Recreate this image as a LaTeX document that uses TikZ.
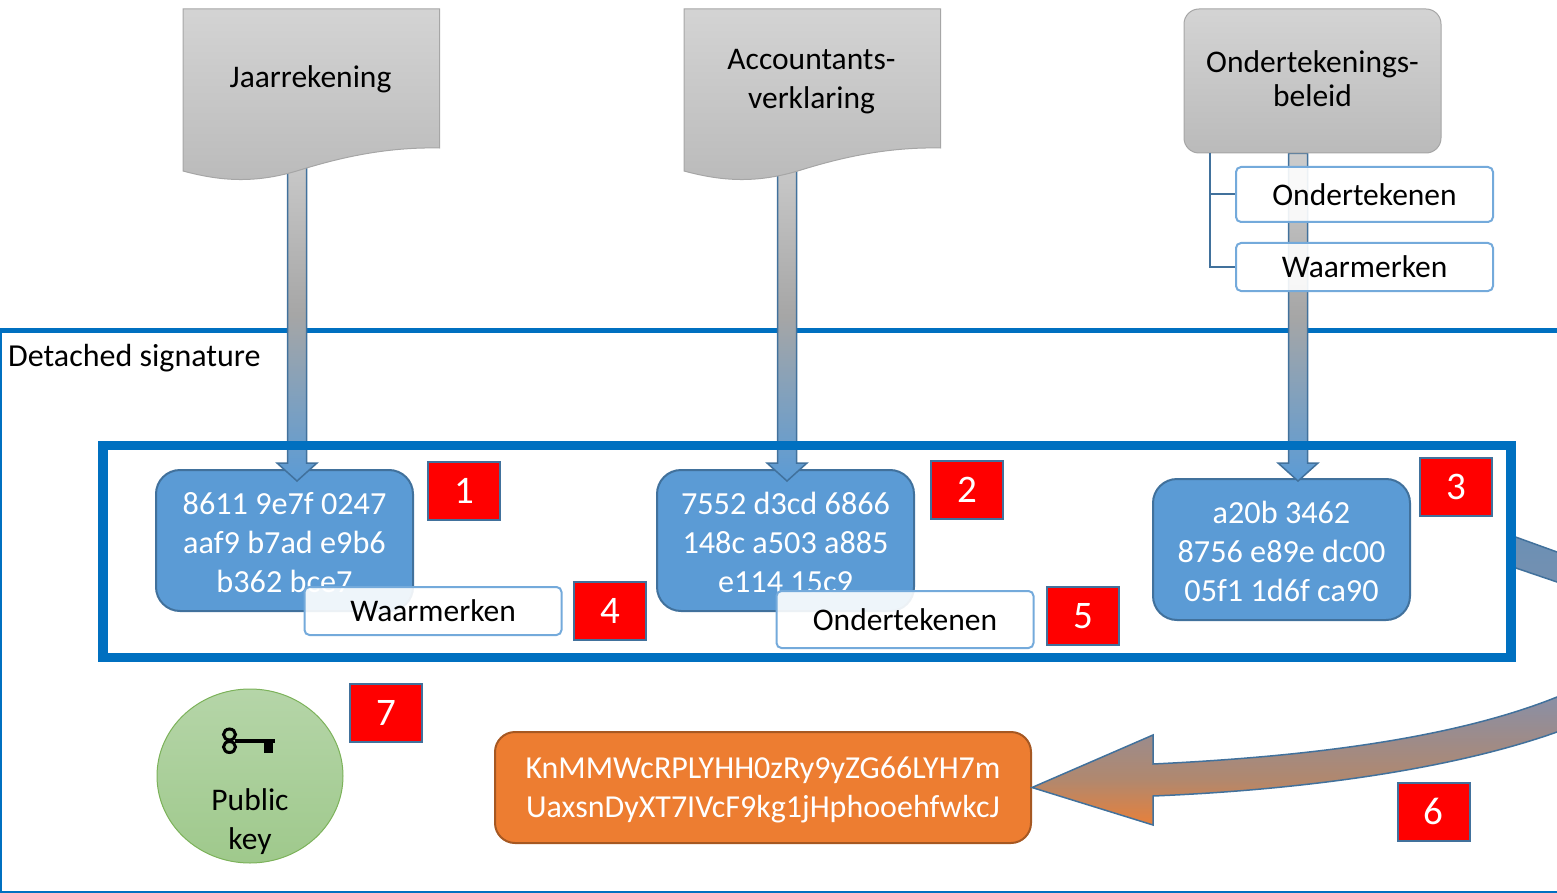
\documentclass[tikz,border=0pt]{standalone}
\usepackage{fontspec}
\setmainfont{Carlito}
\usepackage{tikz}
\usetikzlibrary{calc, shapes.geometric}
\pgfdeclarelayer{achter}
\pgfdeclarelayer{pijlen}
\pgfsetlayers{achter,pijlen,main}
\definecolor{kader}{HTML}{0070C0}
\definecolor{hashblauw}{HTML}{5B9BD5}
\definecolor{rand}{HTML}{41719C}
\definecolor{oranje}{HTML}{ED7D31}
\definecolor{groenrand}{HTML}{7CB25A}
\definecolor{groenboven}{HTML}{B5D5A8}
\definecolor{groenonder}{HTML}{9FC98C}
\definecolor{kroma}{HTML}{E8803A}
\definecolor{kromb}{HTML}{B0886F}
\definecolor{kromc}{HTML}{8A8FA5}
\definecolor{kromd}{HTML}{6B90B5}
\pgfdeclareverticalshading{krom}{100bp}{color(0bp)=(kroma); color(25bp)=(kroma); color(33bp)=(kromb); color(47bp)=(kromc); color(75bp)=(kromd); color(100bp)=(kromd)}
\newcommand*{\zak}{\rule{0pt}{25.5pt}}
\tikzset{
    tekst/.style={font=\fontsize{31.5}{39}\selectfont, align=center, inner sep=0pt},
    hashbox/.style={tekst, font=\fontsize{32.2}{39}\selectfont, draw=rand, line width=2pt, fill=hashblauw, text=white, rounded corners=24pt, minimum width=257pt, minimum height=141pt},
    actie/.style={tekst, draw=hashblauw!85!white, line width=2pt, fill=white, fill opacity=.9, text opacity=1, rounded corners=5pt, minimum width=257pt},
    stap/.style={draw=rand, line width=2pt, fill=red, text=white, font=\fontsize{39}{39}\selectfont, inner sep=0pt, minimum width=72pt, minimum height=58pt},
    grijs/.style={draw=black!35, line width=1pt, top color=black!17, bottom color=black!27},
    pijl/.style={draw=rand, line width=1.5pt, top color=black!20, bottom color=hashblauw, middle color=black!35},
}
\newcommand*{\docsheet}[4]{
    \draw[grijs](#2-128.5, 9)--(#2+128, 9)--(#2+128, 148)
        ..controls(#2+78.5, 147)and(#2+33.5, 156)..(#2-11.5, 170)
        ..controls(#2-56.5, 184)and(#2-91.5, 181)..(#2-128.5, 171)--cycle;
    \node[tekst, minimum width=257pt, minimum height=139pt](#1)at(#2-1, #4){#3};
}
\newcommand*{\hashpijl}[2]{
    \draw[pijl]($(#1 |- #2.south)+(-9.5, 0)$)--($(#1)+(-9.5, -18)$)--($(#1)+(-20, -18)$)--(#1)
        --($(#1)+(20, -18)$)--($(#1)+(9.5, -18)$)--($(#1 |- #2.south)+(9.5, 0)$)--cycle;
}

\begin{document}
\begin{tikzpicture}[x=1pt, y=-1pt]
    \useasboundingbox(0, 0)rectangle(1557, 893);
    \docsheet{jaar}{311.5}{Jaarrekening}{79}
    \docsheet{verklaring}{812.5}{Accountants-\\verklaring}{82}
    \node[grijs, rounded corners=15pt, minimum width=257pt, minimum height=144pt](beleid)at(1312.5, 81){};
    \node[tekst, font=\fontsize{31.5}{34}\selectfont](beleidtekst)at(1312.5, 79){Ondertekenings-\\beleid};
    \begin{pgfonlayer}{achter}
        \draw[kader, line width=5pt](0, 330)--(1600, 330);
        \draw[kader, line width=4pt](0, 330)--(0, 892);
        \draw[kader, line width=3pt](0, 892)--(1600, 892);
        \node[tekst, font=\fontsize{32}{39}\selectfont, anchor=west](titel)at(8, 358){Detached signature};
        \node[hashbox](hasha)at(284.5, 540.5){\zak 8611 9e7f 0247\\aaf9 b7ad e9b6\\b362 bce7};
        \node[hashbox](hashb)at(785.5, 540.5){\zak 7552 d3cd 6866\\148c a503 a885\\e114 15c9};
        \node[hashbox](hashc)at(1281.5, 549.5){\zak a20b 3462\\8756 e89e dc00\\05f1 1d6f ca90};
    \end{pgfonlayer}
    \coordinate(tipa)at(297, 481);
    \coordinate(tipb)at(787, 481);
    \coordinate(tipc)at(1298, 481);
    \begin{pgfonlayer}{pijlen}
        \hashpijl{tipa}{jaar}
        \hashpijl{tipb}{verklaring}
        \hashpijl{tipc}{beleid}
    \end{pgfonlayer}
    \node[tekst, font=\fontsize{32}{39}\selectfont, draw=oranje!70!black, line width=2pt, fill=oranje, text=white, rounded corners=20pt, minimum width=536pt, minimum height=111pt](handtekening)at(763, 787.5){\zak KnMMWcRPLYHH0zRy9yZG66LYH7m\\UaxsnDyXT7IVcF9kg1jHphooehfwkcJ};
    \draw[draw=rand, line width=1.5pt, shading=krom](handtekening.east)--(1153, 735)--(1153, 764)
        ..controls(1300, 757)and(1450, 740)..(1557, 697)
        ..controls(1640, 660)and(1640, 610)..(1557, 582)--(1510, 566)--(1510, 535)--(1557, 552)
        ..controls(1680, 600)and(1680, 690)..(1557, 732)
        ..controls(1450, 770)and(1300, 790)..(1153, 796)--(1153, 825)--cycle;
    \draw[kader, line width=9.5pt](103, 445.5)rectangle(1511, 657.5);
    \node[actie, minimum height=48pt](waara)at(433, 611){Waarmerken};
    \node[actie, minimum height=57pt](ondera)at(905, 619.5){Ondertekenen};
    \node[actie, minimum height=55pt](onderb)at(1364.5, 194.5){Ondertekenen};
    \node[actie, minimum height=48pt](waarb)at(1364.5, 267){Waarmerken};
    \coordinate(stam)at(1210, 153);
    \draw[rand, line width=2pt](stam)|-(onderb.west);
    \draw[rand, line width=2pt](stam)|-(waarb.west);
    \node[stap](een)at(464, 490.5){1};
    \node[stap](twee)at(967, 490){2};
    \node[stap](drie)at(1456, 487){3};
    \node[stap](vier)at(610, 611){4};
    \node[stap](vijf)at(1083, 616){5};
    \node[stap](zes)at(1433.5, 811.5){6};
    \node[stap](zeven)at(386, 713){7};
    \node[ellipse, draw=groenrand, line width=1pt, top color=groenboven, bottom color=groenonder, minimum width=186pt, minimum height=174pt, inner sep=0pt](sleutel)at(250, 776){};
    \node[tekst](publiek)at(250, 822){Public\\key};
    \draw[line width=3pt](229.5, 734.5)circle[x radius=6, y radius=5.5];
    \draw[line width=3pt](229.5, 747)circle[x radius=6, y radius=5.5];
    \draw[line width=3.5pt](235, 741)--(275, 741);
    \fill(264, 741)rectangle(273, 753);
\end{tikzpicture}
\end{document}
